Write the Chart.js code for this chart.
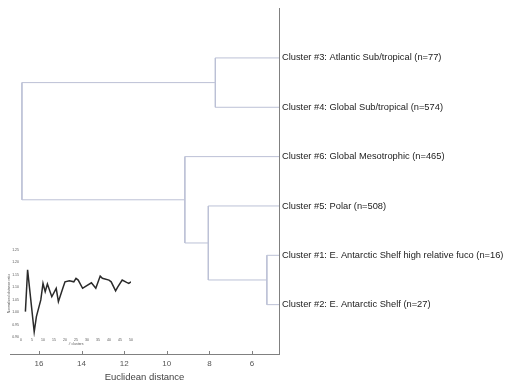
<!DOCTYPE html>
<html>
<head>
<meta charset="utf-8">
<script src="https://cdn.jsdelivr.net/npm/chart.js@4/dist/chart.umd.min.js"></script>
<style>
  html, body { margin: 0; padding: 0; background: #fff; }
  #wrap { position: relative; width: 507px; height: 389px; }
  #tree { position: absolute; left: 0; top: 0; }
  #inset { position: absolute; left: 0; top: 245px; }
</style>
</head>
<body>
<div id="wrap">
  <canvas id="tree" width="507" height="389"></canvas>
  <canvas id="inset" width="140" height="105"></canvas>
</div>
<script>
// leaves, top to bottom
const leafLabels = [
    'Cluster #3: Atlantic Sub/tropical (n=77)',
    'Cluster #4: Global Sub/tropical (n=574)',
    'Cluster #6: Global Mesotrophic (n=465)',
    'Cluster #5: Polar (n=508)',
    'Cluster #1: E. Antarctic Shelf high relative fuco (n=16)',
    'Cluster #2: E. Antarctic Shelf (n=27)',
];
const leafRows = [6, 5, 4, 3, 2, 1];

// linkage: nodes 0-5 are the leaves, merge i becomes node 6 + i
const linkLeft = [4, 3, 2, 0, 9];
const linkRight = [5, 6, 7, 1, 8];
const linkDist = [5.3, 8.05, 9.15, 7.72, 16.8];

const distTicks = [16, 14, 12, 10, 8, 6];

// inset: ratio against number of clusters
const kValues = [2, 3, 6, 7, 9, 10, 11, 12, 14, 16, 17, 19, 20, 22, 24, 25, 26, 28, 29, 32, 34, 36, 37, 40, 41, 43, 44, 46, 48, 49, 50];
const ratioValues = [1.002, 1.170, 0.921, 0.982, 1.049, 1.116, 1.082, 1.113, 1.062, 1.096, 1.042, 1.096, 1.122, 1.126, 1.122, 1.136, 1.129, 1.096, 1.102, 1.118, 1.096, 1.145, 1.136, 1.129, 1.122, 1.086, 1.102, 1.129, 1.120, 1.116, 1.122];

Chart.defaults.font.family = "'Liberation Sans', Arial, sans-serif";
Chart.defaults.animation = false;

const xMin = 4.73, xMax = 17.36;
const linkColor = 'rgb(188, 193, 214)';
const axisColor = 'rgb(128, 128, 128)';

// node positions: row and height for every leaf and merge
const nodeRow = leafRows.slice();
const nodeDist = leafRows.map(() => xMin);
const datasets = [];
for (let i = 0; i < linkDist.length; i++) {
    const a = linkLeft[i], b = linkRight[i], d = linkDist[i];
    datasets.push({
        data: [
            { x: nodeDist[a], y: nodeRow[a] },
            { x: d, y: nodeRow[a] },
            { x: d, y: nodeRow[b] },
            { x: nodeDist[b], y: nodeRow[b] },
        ],
        showLine: true,
        pointRadius: 0,
        borderColor: linkColor,
        borderWidth: 1,
    });
    nodeRow.push((nodeRow[a] + nodeRow[b]) / 2);
    nodeDist.push(d);
}

// small tick marks pointing into the plot
const innerTicks = {
    id: 'innerTicks',
    afterDraw(chart) {
        const ctx = chart.ctx, sx = chart.scales.x, bottom = chart.chartArea.bottom;
        ctx.save();
        ctx.strokeStyle = axisColor;
        ctx.lineWidth = 1;
        distTicks.forEach(v => {
            const px = Math.round(sx.getPixelForValue(v)) + 0.5;
            ctx.beginPath();
            ctx.moveTo(px, bottom);
            ctx.lineTo(px, bottom - 3);
            ctx.stroke();
        });
        ctx.restore();
    }
};

new Chart(document.getElementById('tree'), {
    type: 'scatter',
    data: { datasets: datasets },
    plugins: [innerTicks],
    options: {
        responsive: false,
        devicePixelRatio: 1,
        layout: { padding: { left: 10, top: 7, right: 0, bottom: 0 } },
        plugins: { legend: { display: false }, tooltip: { enabled: false } },
        scales: {
            x: {
                type: 'linear',
                reverse: true,
                min: xMin,
                max: xMax,
                afterBuildTicks: s => { s.ticks = distTicks.map(v => ({ value: v })); },
                afterFit: s => { s.height = 35; },
                grid: { display: true, drawOnChartArea: false, drawTicks: false },
                border: { color: axisColor },
                ticks: { padding: 5, color: '#555', font: { size: 8 } },
                title: {
                    display: true,
                    text: 'Euclidean distance',
                    color: '#444',
                    font: { size: 9.5 },
                    padding: { top: 0, bottom: 6 },
                },
            },
            y: {
                type: 'linear',
                position: 'right',
                min: 0,
                max: 7,
                afterBuildTicks: s => { s.ticks = leafRows.map(v => ({ value: v })); },
                afterFit: s => { s.width = 228; },
                grid: { display: true, drawOnChartArea: false, drawTicks: false },
                border: { color: axisColor },
                ticks: {
                    padding: 3,
                    color: '#222',
                    font: { size: 9.3 },
                    callback: v => leafLabels[leafRows.indexOf(v)],
                },
            },
        },
    },
});

new Chart(document.getElementById('inset'), {
    type: 'scatter',
    data: {
        datasets: [{
            data: kValues.map((k, i) => ({ x: k, y: ratioValues[i] })),
            showLine: true,
            pointRadius: 0,
            borderColor: '#2a2a2a',
            borderWidth: 1.5,
        }],
    },
    options: {
        responsive: false,
        devicePixelRatio: 1,
        layout: { padding: { left: 7, top: 5, right: 9, bottom: 0 } },
        plugins: { legend: { display: false }, tooltip: { enabled: false } },
        scales: {
            x: {
                type: 'linear',
                min: 0,
                max: 50,
                afterFit: s => { s.height = 13; },
                grid: { display: false, drawTicks: false },
                border: { display: false },
                ticks: { stepSize: 5, padding: 1, color: '#555', font: { size: 3.5 } },
                title: { display: true, text: '# clusters', color: '#555', font: { size: 3.5 }, padding: { top: 0, bottom: 4 } },
            },
            y: {
                type: 'linear',
                min: 0.9,
                max: 1.25,
                afterFit: s => { s.width = 14; },
                grid: { display: false, drawTicks: false },
                border: { display: false },
                ticks: { stepSize: 0.05, padding: 2, color: '#555', font: { size: 3.5 } },
                title: { display: true, text: 'Normalized distance ratio', color: '#555', font: { size: 3.5 }, padding: 0 },
            },
        },
    },
});
</script>
</body>
</html>
